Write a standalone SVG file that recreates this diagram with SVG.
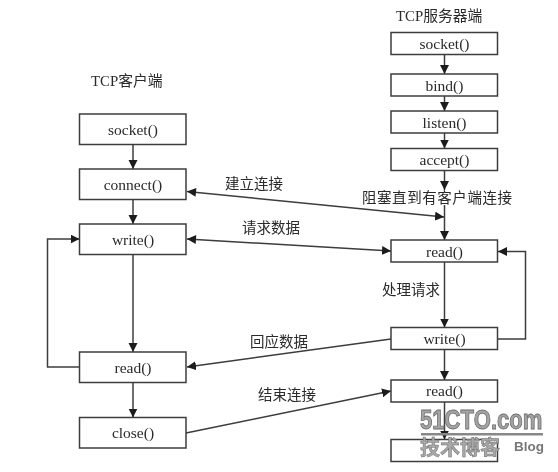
<svg xmlns="http://www.w3.org/2000/svg" width="558" height="472" viewBox="0 0 558 472">
<style>
.b{fill:#fff;stroke:#3c3c3c;stroke-width:1.5}
.t{font-family:"Liberation Serif","Noto Sans CJK SC",serif;font-size:15.5px;fill:#2a2a2a;text-anchor:middle}
.c{font-family:"Noto Sans CJK SC","Liberation Serif",sans-serif;font-size:14.5px;fill:#2a2a2a}
.h{font-family:"Liberation Serif","Noto Sans CJK SC",serif;font-size:14.8px;fill:#2a2a2a}
.lb{fill:none;stroke:#3c3c3c;stroke-width:1.5;marker-end:url(#a)}
.ld{fill:none;stroke:#3c3c3c;stroke-width:1.5;marker-end:url(#a);marker-start:url(#s)}
</style>
<defs>
<marker id="a" markerUnits="userSpaceOnUse" markerWidth="10" markerHeight="10" refX="9" refY="4.500" orient="auto"><path d="M0 0L9 4.500L0 9Z" fill="#1c1c1c"/></marker>
<marker id="s" markerUnits="userSpaceOnUse" markerWidth="10" markerHeight="10" refX="0" refY="4.500" orient="auto"><path d="M9 0L0 4.500L9 9Z" fill="#1c1c1c"/></marker>
<filter id="f" filterUnits="userSpaceOnUse" x="0" y="0" width="558" height="472"><feGaussianBlur stdDeviation="0.4"/></filter>
</defs>
<rect width="558" height="472" fill="#fff"/>
<g filter="url(#f)">
<g id="connectors">
<path class="lb" d="M133 144.5V169"/>
<path class="lb" d="M133 199.5V224"/>
<path class="lb" d="M133 254.5V352"/>
<path class="lb" d="M133 382V417.5"/>
<path class="lb" d="M79.5 367H47.5V239H79.5"/>
<path class="lb" d="M444.5 54.5V74"/>
<path class="lb" d="M444.5 96V111"/>
<path class="lb" d="M444.5 133V148.5"/>
<path class="lb" d="M444.5 170.5V190"/>
<path class="lb" d="M444.5 205V240"/>
<path class="lb" d="M444.5 262V327.5"/>
<path class="lb" d="M444.5 349V380"/>
<path class="lb" d="M444.5 401.5V439.5"/>
<path class="lb" d="M497.5 339H525.5V251.5H498"/>
<path class="ld" d="M187 191.5L444 217"/>
<path class="ld" d="M187 239L391 251"/>
<path class="lb" d="M391 339L187 367"/>
<path class="lb" d="M186 433L391 391"/>
</g>
<g id="client-socket"><rect class="b" x="79.5" y="114" width="106.500" height="30.500"/><text class="t" x="133" y="135">socket()</text></g>
<g id="client-connect"><rect class="b" x="79.5" y="169" width="106.500" height="30.500"/><text class="t" x="133" y="190">connect()</text></g>
<g id="client-write"><rect class="b" x="79.5" y="224" width="106.500" height="30.500"/><text class="t" x="133" y="245">write()</text></g>
<g id="client-read"><rect class="b" x="79.5" y="352" width="106.500" height="30.500"/><text class="t" x="133" y="372.500">read()</text></g>
<g id="client-close"><rect class="b" x="79.5" y="417.500" width="106.500" height="30.500"/><text class="t" x="133" y="438">close()</text></g>
<g id="server-socket"><rect class="b" x="391" y="32.500" width="106.500" height="22"/><text class="t" x="444.500" y="49">socket()</text></g>
<g id="server-bind"><rect class="b" x="391" y="74" width="106.500" height="22"/><text class="t" x="444.500" y="91">bind()</text></g>
<g id="server-listen"><rect class="b" x="391" y="111" width="106.500" height="22"/><text class="t" x="444.500" y="128">listen()</text></g>
<g id="server-accept"><rect class="b" x="391" y="148.500" width="106.500" height="22"/><text class="t" x="444.500" y="165">accept()</text></g>
<g id="server-read"><rect class="b" x="391" y="240" width="106.500" height="22"/><text class="t" x="444.500" y="257">read()</text></g>
<g id="server-write"><rect class="b" x="391" y="327.500" width="106.500" height="22"/><text class="t" x="444.500" y="344">write()</text></g>
<g id="server-read2"><rect class="b" x="391" y="380" width="106.500" height="22"/><text class="t" x="444.500" y="396">read()</text></g>
<g id="server-last"><rect class="b" x="391" y="439.500" width="106.500" height="22"/></g>
<g id="labels">
<text class="h" x="91" y="86">TCP客户端</text>
<text class="h" x="396" y="21">TCP服务器端</text>
<text class="c" x="225" y="189">建立连接</text>
<text class="c" x="242" y="233">请求数据</text>
<text class="c" x="250" y="347">回应数据</text>
<text class="c" x="258" y="400">结束连接</text>
<text class="c" x="382" y="295">处理请求</text>
<text class="c" x="362" y="203" textLength="150">阻塞直到有客户端连接</text>
</g>
</g>
<g id="watermark" filter="url(#f)">
<text transform="translate(420 429) scale(.82 1)" font-family="'Liberation Sans',sans-serif" font-size="27" font-weight="bold" fill="#a4a4a4" stroke="#6e6e6e" stroke-width="0.9">51CTO.com</text>
<rect x="421" y="433" width="122" height="2.500" fill="#888"/>
<text x="420" y="455" font-family="'Noto Sans CJK SC',sans-serif" font-size="20" font-weight="bold" fill="#a8a8a8" stroke="#6e6e6e" stroke-width="0.5">技术博客</text>
<text x="514" y="451" font-family="'Liberation Sans',sans-serif" font-size="12" font-weight="bold" fill="#777" textLength="30" lengthAdjust="spacingAndGlyphs">Blog</text>
</g>
</svg>
